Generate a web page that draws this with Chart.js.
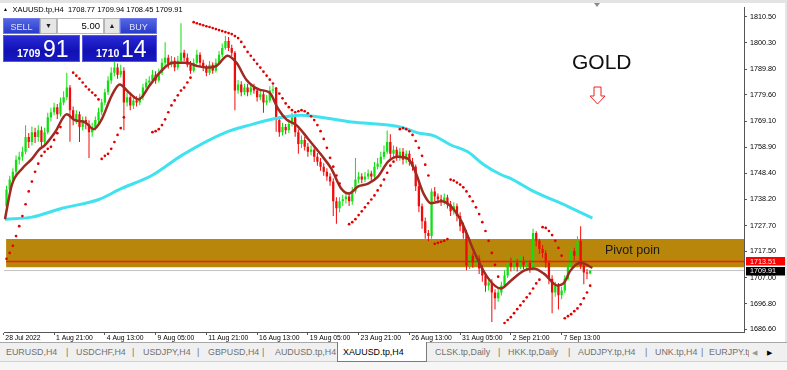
<!DOCTYPE html>
<html><head><meta charset="utf-8">
<script src="https://cdn.jsdelivr.net/npm/chart.js@4.4.1/dist/chart.umd.min.js"></script>
<style>
html,body{margin:0;padding:0;background:#fff;}
body{width:787px;height:370px;overflow:hidden;position:relative;font-family:"Liberation Sans",Arial,sans-serif;}
#c{position:absolute;left:0;top:0;}
.abs{position:absolute;white-space:nowrap;}
.btn{background:linear-gradient(#5466e4,#2a3cca);color:#dfe3ff;font-size:9px;text-align:center;line-height:16px;box-sizing:border-box;border:1px solid #6a78e8;}
.spin{background:#e6e6e6;border:1px solid #b4b4b4;box-sizing:border-box;font-size:7px;text-align:center;line-height:14px;color:#222;}
.inp{background:#fff;border:1px solid #b8b8b8;box-sizing:border-box;font-size:9.5px;text-align:right;padding-right:3px;line-height:14px;color:#000;}
.px{background:linear-gradient(#2a2ad6,#1010b4 60%,#1818c0);border:1px solid #5656e6;box-sizing:border-box;color:#fff;}
.px .s{position:absolute;font-size:10.5px;font-weight:bold;line-height:10.5px;}
.px .b{position:absolute;font-size:23px;line-height:23px;}
.tab{top:343px;line-height:19px;font-size:8.9px;color:#707070;}
</style></head><body>
<canvas id="c" width="787" height="343" style="width:787px;height:343px"></canvas>
<div class="abs" style="left:0;top:0;width:787px;height:3px;background:#e3e3e3;"></div>
<div class="abs" style="left:785px;top:0;width:2px;height:343px;background:#e6e6e6;"></div>
<div class="abs" style="left:594px;top:3px;width:0;height:0;border-left:3.5px solid transparent;border-right:3.5px solid transparent;border-top:4px solid #8c8c8c;"></div>
<div class="abs" style="left:3px;top:6px;font-size:5px;line-height:7px;color:#000;">▲</div>
<div class="abs" style="left:12.5px;top:5.2px;font-size:7.5px;line-height:9px;color:#000;">XAUUSD.tp,H4&nbsp; 1708.77 1709.94 1708.45 1709.91</div>

<div class="abs btn" style="left:3px;top:18px;width:37px;height:16px;">SELL</div>
<div class="abs spin" style="left:40px;top:18px;width:17px;height:16px;">▼</div>
<div class="abs inp" style="left:57px;top:18px;width:47px;height:16px;">5.00</div>
<div class="abs spin" style="left:104px;top:18px;width:16px;height:16px;">▲</div>
<div class="abs btn" style="left:120px;top:18px;width:37px;height:16px;">BUY</div>
<div class="abs px" style="left:3px;top:35px;width:77px;height:27px;"><span class="s" style="left:13px;top:12px;">1709</span><span class="b" style="left:39px;top:2px;">91</span></div>
<div class="abs px" style="left:82px;top:35px;width:75px;height:27px;"><span class="s" style="left:13px;top:12px;">1710</span><span class="b" style="left:38px;top:2px;">14</span></div>

<div class="abs" style="left:572px;top:51px;font-size:21px;line-height:21px;color:#111;">GOLD</div>
<svg class="abs" style="left:0;top:0;" width="787" height="343" pointer-events="none">
<polygon points="594,87 601,87 601,96 605,96 597.5,104 590,96 594,96" fill="#fff" stroke="#ee2222" stroke-width="1"/>
</svg>
<div class="abs" style="left:605px;top:244px;font-size:12.5px;line-height:12.5px;color:#1a1a1a;">Pivot poin</div>

<div class="abs" style="left:0;top:343px;width:787px;height:27px;background:#f6f6f6;"></div>
<div class="abs" style="left:0;top:342px;width:787px;height:20px;background:#f0f0f0;border-top:1px solid #a8a8a8;border-bottom:1px solid #d0d0d0;box-sizing:border-box;"></div>
<div class="abs" style="left:337px;top:342px;width:90px;height:20px;background:#fff;border-left:1px solid #7a7a7a;border-right:1px solid #7a7a7a;border-bottom:1px solid #7a7a7a;box-sizing:border-box;"></div>
<div class="abs tab" style="left:6px;">EURUSD,H4</div>
<div class="abs tab" style="left:66px;">|</div>
<div class="abs tab" style="left:76px;">USDCHF,H4</div>
<div class="abs tab" style="left:132px;">|</div>
<div class="abs tab" style="left:143px;">USDJPY,H4</div>
<div class="abs tab" style="left:197px;">|</div>
<div class="abs tab" style="left:208px;">GBPUSD,H4</div>
<div class="abs tab" style="left:262px;">|</div>
<div class="abs tab" style="left:275px;">AUDUSD.tp,H4</div>
<div class="abs tab" style="left:343px;color:#000;">XAUUSD.tp,H4</div>
<div class="abs tab" style="left:435px;">CLSK.tp,Daily</div>
<div class="abs tab" style="left:498px;">|</div>
<div class="abs tab" style="left:508px;">HKK.tp,Daily</div>
<div class="abs tab" style="left:568px;">|</div>
<div class="abs tab" style="left:578px;">AUDJPY.tp,H4</div>
<div class="abs tab" style="left:645px;">|</div>
<div class="abs tab" style="left:655px;">UNK.tp,H4</div>
<div class="abs tab" style="left:701px;">|</div>
<div class="abs tab" style="left:709px;width:40px;overflow:hidden;">EURJPY.tp,H4</div>
<div class="abs tab" style="left:752px;font-size:7px;color:#999;">◀</div>
<div class="abs tab" style="left:767px;font-size:7px;color:#000;">▶</div>

<script>
// ---- data (XAUUSD H4, bars 1..185) ----
const opens = [
1735.4,1742.1,1746.0,1749.1,1753.9,1755.0,1757.0,1762.9,1760.9,1764.8,
1762.9,1765.6,1760.9,1764.8,1770.7,1772.7,1774.7,1771.9,1776.6,1778.6,
1782.5,1773.5,1769.6,1771.9,1766.8,1769.6,1768.0,1764.8,1766.8,1769.6,
1772.7,1776.6,1780.6,1785.3,1788.4,1790.4,1787.6,1789.2,1776.6,1778.6,
1775.4,1777.4,1776.6,1778.6,1782.5,1784.5,1785.3,1787.6,1785.3,1788.4,
1792.3,1794.3,1791.5,1793.1,1790.4,1793.1,1796.3,1794.3,1791.5,1789.2,
1792.3,1795.5,1792.3,1790.4,1788.4,1791.5,1789.2,1792.3,1795.5,1798.2,
1801.0,1798.2,1796.3,1781.3,1783.7,1780.6,1782.5,1780.6,1782.5,1781.3,
1778.6,1779.8,1776.6,1777.4,1781.3,1781.7,1769.6,1764.8,1766.8,1765.6,
1768.0,1770.7,1764.8,1760.1,1761.7,1759.0,1757.0,1757.8,1755.0,1753.1,
1751.1,1749.1,1747.2,1745.2,1737.4,1734.6,1737.4,1738.2,1739.3,1737.4,
1741.3,1746.0,1747.2,1746.0,1747.2,1748.4,1747.2,1751.1,1752.3,1755.0,
1757.0,1760.9,1756.2,1757.8,1755.0,1757.0,1753.9,1756.2,1753.1,1751.1,
1743.3,1735.4,1729.5,1724.8,1723.6,1741.3,1739.3,1738.2,1737.4,1738.9,
1736.2,1733.4,1735.4,1731.5,1727.5,1724.8,1711.8,1715.8,1713.0,1714.6,
1710.7,1707.9,1704.0,1705.2,1701.2,1698.9,1701.2,1704.0,1707.9,1713.0,
1711.5,1713.0,1711.5,1713.8,1712.2,1713.0,1710.7,1724.8,1721.7,1718.5,
1716.9,1713.0,1706.7,1701.2,1704.0,1700.1,1702.0,1706.7,1711.8,1717.7,
1715.8,1721.7,1711.8,1709.1,1708.77];
const highs = [
1743.5,1747.5,1750.5,1755.5,1757.0,1759.0,1767.5,1764.5,1767.0,1766.5,
1767.5,1767.0,1766.5,1772.5,1774.5,1776.5,1776.0,1778.5,1781.0,1788.4,
1783.5,1775.0,1773.5,1773.0,1771.0,1771.0,1769.5,1768.5,1771.0,1774.5,
1778.0,1782.0,1787.0,1790.5,1793.0,1792.0,1791.5,1790.5,1780.5,1780.0,
1779.0,1779.0,1780.0,1784.0,1786.0,1787.0,1789.5,1789.0,1790.0,1794.0,
1800.5,1795.5,1795.0,1794.5,1795.0,1808.0,1797.5,1796.0,1793.0,1794.0,
1797.5,1796.5,1793.5,1791.5,1793.0,1792.5,1794.0,1797.0,1800.0,1803.0,
1802.5,1799.5,1797.0,1785.5,1785.0,1784.0,1784.0,1784.0,1784.0,1782.5,
1781.5,1781.0,1779.5,1783.0,1783.5,1782.5,1771.0,1768.5,1768.0,1770.0,
1772.5,1771.5,1766.0,1763.5,1763.0,1760.5,1759.5,1759.0,1756.5,1754.5,
1752.5,1750.5,1748.5,1746.5,1739.0,1739.0,1740.0,1741.0,1741.0,1743.0,
1754.5,1749.0,1748.5,1749.0,1750.0,1749.5,1753.0,1754.5,1757.0,1759.5,
1765.5,1764.0,1759.5,1759.0,1758.5,1758.5,1757.5,1757.5,1754.5,1752.0,
1744.5,1736.5,1731.0,1726.0,1742.5,1743.0,1740.5,1740.0,1740.5,1740.0,
1737.5,1737.0,1736.5,1733.0,1729.0,1726.0,1718.0,1717.0,1716.5,1716.0,
1712.0,1709.0,1707.0,1706.5,1702.5,1703.0,1705.5,1710.0,1716.5,1715.0,
1715.5,1714.5,1716.0,1715.5,1714.5,1714.0,1726.5,1725.5,1722.5,1720.0,
1718.0,1714.0,1708.0,1705.5,1705.0,1703.5,1708.0,1713.5,1719.5,1719.0,
1723.5,1727.5,1713.0,1710.5,1709.94];
const lows = [
1734.0,1741.0,1745.0,1748.0,1752.0,1753.5,1756.0,1758.5,1759.5,1760.5,
1761.0,1759.0,1759.5,1764.0,1769.0,1771.5,1770.0,1771.0,1775.5,1777.5,
1761.0,1767.5,1768.0,1760.9,1765.5,1766.0,1754.5,1763.0,1765.5,1768.5,
1771.5,1775.5,1779.5,1784.0,1787.0,1786.0,1786.5,1765.6,1775.0,1773.5,
1774.0,1775.0,1775.5,1777.5,1781.5,1783.0,1784.5,1784.0,1784.5,1787.5,
1791.0,1790.0,1790.5,1789.0,1789.5,1792.5,1793.0,1790.5,1788.0,1788.5,
1791.5,1791.0,1789.0,1787.0,1787.5,1788.0,1788.5,1791.5,1794.5,1797.5,
1797.0,1795.0,1773.5,1780.0,1779.0,1779.5,1779.0,1779.5,1780.0,1777.0,
1777.5,1772.5,1775.5,1776.5,1780.0,1765.0,1763.0,1763.5,1764.0,1764.5,
1767.0,1763.0,1756.2,1758.5,1757.5,1755.0,1755.5,1753.0,1751.5,1749.5,
1747.5,1745.5,1743.5,1731.5,1728.5,1733.0,1735.5,1736.5,1735.5,1736.0,
1740.5,1744.5,1744.5,1745.0,1746.0,1745.5,1746.0,1750.0,1751.0,1754.0,
1756.0,1754.0,1755.0,1753.5,1753.5,1752.0,1752.5,1751.5,1749.5,1741.5,
1733.0,1726.5,1722.5,1721.5,1722.5,1737.5,1736.5,1735.5,1736.0,1734.5,
1731.5,1732.0,1729.5,1725.5,1722.5,1710.0,1710.5,1711.0,1711.5,1708.5,
1705.5,1701.5,1702.0,1689.5,1694.5,1697.5,1700.0,1703.0,1707.0,1709.5,
1710.0,1709.5,1710.5,1710.5,1710.5,1709.0,1710.0,1719.5,1716.5,1715.0,
1711.0,1704.5,1693.0,1699.5,1694.5,1698.5,1701.0,1706.0,1711.0,1714.0,
1715.0,1710.5,1704.5,1706.5,1708.45];
const closes = [
1742.1,1746.0,1749.1,1753.9,1755.0,1757.0,1762.9,1760.9,1764.8,1762.9,
1765.6,1760.9,1764.8,1770.7,1772.7,1774.7,1771.9,1776.6,1778.6,1782.5,
1773.5,1769.6,1771.9,1766.8,1769.6,1768.0,1764.8,1766.8,1769.6,1772.7,
1776.6,1780.6,1785.3,1788.4,1790.4,1787.6,1789.2,1776.6,1778.6,1775.4,
1777.4,1776.6,1778.6,1782.5,1784.5,1785.3,1787.6,1785.3,1788.4,1792.3,
1794.3,1791.5,1793.1,1790.4,1793.1,1796.3,1794.3,1791.5,1789.2,1792.3,
1795.5,1792.3,1790.4,1788.4,1791.5,1789.2,1792.3,1795.5,1798.2,1801.0,
1798.2,1796.3,1781.3,1783.7,1780.6,1782.5,1780.6,1782.5,1781.3,1778.6,
1779.8,1776.6,1777.4,1781.3,1781.7,1769.6,1764.8,1766.8,1765.6,1768.0,
1770.7,1764.8,1760.1,1761.7,1759.0,1757.0,1757.8,1755.0,1753.1,1751.1,
1749.1,1747.2,1745.2,1737.4,1734.6,1737.4,1738.2,1739.3,1737.4,1741.3,
1746.0,1747.2,1746.0,1747.2,1748.4,1747.2,1751.1,1752.3,1755.0,1757.0,
1760.9,1756.2,1757.8,1755.0,1757.0,1753.9,1756.2,1753.1,1751.1,1743.3,
1735.4,1729.5,1724.8,1723.6,1741.3,1739.3,1738.2,1737.4,1738.9,1736.2,
1733.4,1735.4,1731.5,1727.5,1724.8,1711.8,1715.8,1713.0,1714.6,1710.7,
1707.9,1704.0,1705.2,1701.2,1698.9,1701.2,1704.0,1707.9,1713.0,1711.5,
1713.0,1711.5,1713.8,1712.2,1713.0,1710.7,1724.8,1721.7,1718.5,1716.9,
1713.0,1706.7,1701.2,1704.0,1700.1,1702.0,1706.7,1711.8,1717.7,1715.8,
1721.7,1711.8,1709.1,1708.77,1709.91];
// Parabolic SAR dots (null where no dot is visible)
const sar = [
1714.6,1716.9,1719.7,1723.6,1727.5,1731.5,1736.2,1741.3,1745.2,1749.1,
1752.3,1755.4,1757.0,1758.2,1759.0,1761.7,1764.4,1766.8,null,null,
null,1788.4,1787.2,1786.0,1784.5,1782.9,1781.7,1780.5,1779.4,1777.8,
1754.2,1755.4,1756.2,1758.2,1760.9,1763.7,1766.4,1770.7,null,null,
null,null,null,null,null,null,1764.8,1765.2,1766.0,1767.6,
1769.9,1772.7,1775.4,1777.4,1779.4,1781.3,1782.5,1784.5,1786.4,1808.4,
1808.0,1807.6,1807.2,1806.8,1806.5,1806.1,1805.7,1805.3,1804.9,1804.5,
1804.1,1803.7,1802.9,1802.1,1800.6,1798.6,1796.6,1795.1,1793.5,1791.9,
1790.4,1788.8,1787.2,1785.6,1784.1,1782.1,1780.1,1778.2,1776.2,1774.7,
1773.5,1772.7,1773.1,1773.5,1773.1,1772.3,1771.1,1769.6,1767.6,1765.2,
1762.1,1758.6,1754.6,1751.1,1747.6,1744.4,null,null,1728.3,1729.1,
1730.3,1731.9,1733.4,1735.0,1736.6,1738.1,1739.7,1741.7,1743.6,1746.0,
1748.7,1751.5,1753.1,null,1766.0,1766.4,1766.0,1765.2,1763.7,1761.3,
1758.6,1755.4,1751.9,1747.6,null,1720.5,1720.9,1721.3,1721.7,1722.4,
1746.0,1745.6,1744.8,1744.0,1742.9,1741.3,1739.3,1737.4,1735.0,1732.3,
1729.1,1725.6,1721.7,1716.9,1712.2,1707.5,null,1689.1,1690.3,1691.4,
1693.0,1694.6,1696.1,1697.7,1699.3,1700.8,1702.8,1704.8,1706.3,1727.1,
1726.8,1725.6,1724.0,1721.7,1718.9,1715.8,1691.0,1691.8,1692.6,1693.8,
1694.9,1696.5,1698.9,1701.2,1703.9];
// fast moving average (brown), read at bar positions
const maFastBars = [0.5,2.7,5.9,9.0,11.2,13.1,16.3,20.0,22.5,25.7,28.5,31.0,34.2,36.7,39.5,42.7,46.1,49.3,53.4,57.8,60.9,64.1,67.2,70.7,73.5,76.6,80.7,83.9,86.7,89.2,92.4,96.1,100.2,103.4,106.5,109,111.9,115,118.1,121.3,124.4,127.6,129.5,132.6,134.8,138,141.1,144.2,146.4,148.3,152.7,156.8,160,164.1,167.2,170.4,174.7,176.6,178.8,182,185.7];
const maFastVals = [1730.3,1744.0,1750.3,1754.2,1757.8,1759.7,1764.8,1771.9,1769.6,1768.8,1766.0,1769.9,1779.4,1783.7,1780.6,1777.8,1783.3,1788.4,1792.3,1792.3,1791.1,1790.4,1791.1,1795.1,1792.3,1785.6,1781.7,1780.5,1773.9,1769.9,1767.6,1762.1,1755.8,1750.3,1742.5,1740.5,1743.3,1744.4,1747.2,1753.1,1755.0,1754.2,1750.3,1740.1,1736.6,1737.4,1735.4,1729.9,1723.6,1717.7,1707.1,1702.8,1705.9,1709.9,1710.7,1708.7,1704.0,1704.8,1709.9,1713.0,1711.0];
// slow moving average (cyan)
const maSlowBars = [0.5,9.0,18.5,30.1,37.3,46.8,56.5,70.3,77.6,86.1,93.6,109.7,125.4,130.7,135.8,141.1,146.4,151.5,156.8,160,167.2,177.9,185.7];
const maSlowVals = [1730.3,1731.1,1734.6,1738.1,1742.5,1747.6,1755.8,1764.8,1767.6,1770.3,1771.5,1768.8,1766.8,1764.5,1763.3,1759.7,1757.0,1751.9,1748.0,1746.4,1741.3,1735.4,1730.7];
// levels
const zoneTop = 1722.4, zoneBottom = 1711.2;
const pivotLevel = 1713.51;
const bidPrice = 1709.91;
// axes
const yTickValues = [1686.6,1696.8,1707.0,1717.5,1727.7,1738.2,1748.4,1758.9,1769.1,1779.6,1789.8,1800.3,1810.5];
const xTickBars = [0,16,32,48,64,80,96,112,128,144,160,176];
const xTickLabels = ["28 Jul 2022","1 Aug 21:00","4 Aug 13:00","9 Aug 05:00","11 Aug 21:00","16 Aug 13:00","19 Aug 05:00","23 Aug 21:00","26 Aug 13:00","31 Aug 05:00","2 Sep 21:00","7 Sep 13:00"];

const X_MIN = 0.2, X_MAX = 233.5, Y_MIN = 1685.54, Y_MAX = 1814.31;
const FONT = '"Liberation Sans", Arial, sans-serif';
const BULL = '#10e010', BEAR = '#f00a0a';
const zoneStart = 0.85;

const candleColor = c => (closes[c.dataIndex] >= opens[c.dataIndex] ? BULL : BEAR);

const priceTags = {
  id: 'priceTags',
  afterDraw(chart) {
    const {ctx, scales: {y}, chartArea} = chart;
    ctx.save();
    ctx.font = '7.2px ' + FONT;
    ctx.textBaseline = 'middle';
    [[pivotLevel, '#ff0000'], [bidPrice, '#000000']].forEach(([v, bg]) => {
      const py = y.getPixelForValue(v);
      ctx.fillStyle = bg;
      ctx.fillRect(chartArea.right + 2, Math.round(py) - 4, 40, 8.5);
      ctx.fillStyle = '#ffffff';
      ctx.fillText(v.toFixed(2), chartArea.right + 6, py + 0.3);
    });
    ctx.restore();
  }
};

new Chart(document.getElementById('c').getContext('2d'), {
  type: 'line',
  data: {
    datasets: [
      {label: 'zone', data: [{x: zoneStart, y: zoneTop}, {x: X_MAX, y: zoneTop}], fill: {value: zoneBottom},
       backgroundColor: '#b8860b', borderWidth: 0, pointRadius: 0, order: 20},
      {label: 'bid', data: [{x: X_MIN, y: bidPrice}, {x: X_MAX, y: bidPrice}], borderColor: '#c4c4c4', borderWidth: 1,
       pointRadius: 0, fill: false, order: 19},
      {type: 'bar', label: 'wick', data: closes.map((c, k) => ({x: k + 1, y: [lows[k], highs[k]]})),
       backgroundColor: candleColor, grouped: false, maxBarThickness: 1, borderWidth: 0, order: 15},
      {type: 'bar', label: 'body', data: closes.map((c, k) => ({x: k + 1, y: [opens[k], c]})),
       backgroundColor: candleColor, grouped: false, maxBarThickness: 2.4, minBarLength: 1, borderWidth: 0, order: 14},
      {label: 'pivot', data: [{x: zoneStart, y: pivotLevel}, {x: X_MAX, y: pivotLevel}], borderColor: '#ff1a00', borderWidth: 1.6,
       pointRadius: 0, fill: false, order: 10},
      {label: 'maSlow', data: maSlowBars.map((b, k) => ({x: b, y: maSlowVals[k]})), borderColor: '#41e2ef', borderWidth: 3,
       pointRadius: 0, fill: false, cubicInterpolationMode: 'monotone', order: 6},
      {label: 'maFast', data: maFastBars.map((b, k) => ({x: b, y: maFastVals[k]})), borderColor: '#9e2a22', borderWidth: 2.5,
       pointRadius: 0, fill: false, cubicInterpolationMode: 'monotone', order: 5},
      {label: 'sar', data: sar.map((v, k) => ({x: k + 1, y: v})), showLine: false, pointRadius: 1.35,
       pointBackgroundColor: '#e00000', pointBorderWidth: 0, order: 1}
    ]
  },
  options: {
    responsive: false, animation: false, devicePixelRatio: 1, events: [],
    layout: {padding: {left: 2, top: 4, right: 0, bottom: 0}},
    plugins: {legend: {display: false}, tooltip: {enabled: false}},
    scales: {
      x: {
        type: 'linear', min: X_MIN, max: X_MAX, offset: false,
        afterBuildTicks: s => { s.ticks = xTickBars.map(v => ({value: v})); },
        afterFit: s => { s.height = 11; },
        grid: {display: true, drawOnChartArea: false, drawTicks: true, tickLength: 3, color: '#555', offset: false},
        border: {display: true, color: '#555', width: 1},
        ticks: {autoSkip: false, maxRotation: 0, minRotation: 0, align: 'start', labelOffset: 2, padding: 0, color: '#000',
          font: {size: 6.8, family: FONT, lineHeight: 1},
          callback: v => { const k = xTickBars.indexOf(v); return k >= 0 ? xTickLabels[k] : ''; }}
      },
      y: {
        type: 'linear', position: 'right', min: Y_MIN, max: Y_MAX,
        afterBuildTicks: s => { s.ticks = yTickValues.map(v => ({value: v})); },
        afterFit: s => { s.width = 43; },
        grid: {display: true, drawOnChartArea: false, drawTicks: true, tickLength: 3, color: '#555'},
        border: {display: true, color: '#555', width: 1},
        ticks: {padding: 3, color: '#000', font: {size: 7.2, family: FONT}, callback: v => Number(v).toFixed(2)}
      }
    }
  },
  plugins: [priceTags]
});
</script>
</body></html>
